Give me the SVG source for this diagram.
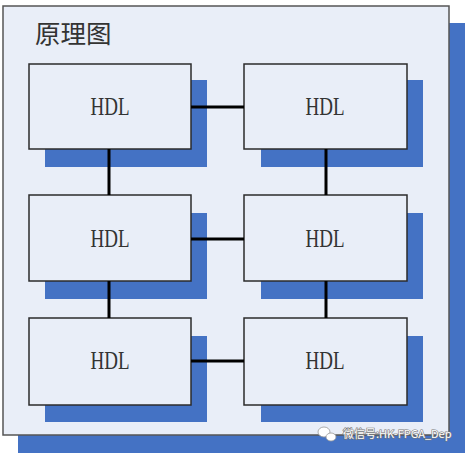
<svg xmlns="http://www.w3.org/2000/svg" width="469" height="456" viewBox="0 0 469 456">
<style>
.shadow{fill:#4472c4}
.box{fill:#e9eef8;stroke:#2b2b2b;stroke-width:1.5}
.lbl{font-family:"Liberation Serif",serif;font-size:26px;fill:#333;text-anchor:middle}
.conn{stroke:#000;stroke-width:3;fill:none}
</style>
<rect x="0" y="0" width="469" height="456" fill="#ffffff"/>
<g id="frame">
<rect class="shadow" x="18" y="23" width="447" height="430"/>
<rect x="3" y="6" width="446" height="429" fill="#e9eef8" stroke="#555" stroke-width="1.5"/>
<text x="35" y="43" font-family="'Noto Sans CJK SC',sans-serif" font-size="25.5" fill="#333">原理图</text>
</g>
<g id="n1"><rect class="shadow" x="45" y="80" width="162" height="87"/><rect class="box" x="29" y="64" width="162" height="85"/><text class="lbl" x="110" y="115" textLength="39" lengthAdjust="spacingAndGlyphs">HDL</text></g>
<g id="n2"><rect class="shadow" x="261" y="80" width="162" height="87"/><rect class="box" x="244" y="64" width="163" height="85"/><text class="lbl" x="325" y="115" textLength="39" lengthAdjust="spacingAndGlyphs">HDL</text></g>
<g id="n3"><rect class="shadow" x="45" y="213" width="162" height="86"/><rect class="box" x="29" y="195" width="162" height="86"/><text class="lbl" x="110" y="247" textLength="39" lengthAdjust="spacingAndGlyphs">HDL</text></g>
<g id="n4"><rect class="shadow" x="261" y="213" width="162" height="86"/><rect class="box" x="244" y="195" width="163" height="86"/><text class="lbl" x="325" y="247" textLength="39" lengthAdjust="spacingAndGlyphs">HDL</text></g>
<g id="n5"><rect class="shadow" x="45" y="336" width="162" height="86"/><rect class="box" x="29" y="318" width="162" height="87"/><text class="lbl" x="110" y="369" textLength="39" lengthAdjust="spacingAndGlyphs">HDL</text></g>
<g id="n6"><rect class="shadow" x="261" y="336" width="162" height="86"/><rect class="box" x="244" y="318" width="163" height="87"/><text class="lbl" x="325" y="369" textLength="39" lengthAdjust="spacingAndGlyphs">HDL</text></g>
<g id="connectors">
<line class="conn" x1="191" y1="107" x2="244" y2="107"/>
<line class="conn" x1="191" y1="239" x2="244" y2="239"/>
<line class="conn" x1="191" y1="361" x2="244" y2="361"/>
<line class="conn" x1="109" y1="149" x2="109" y2="195"/>
<line class="conn" x1="109" y1="281" x2="109" y2="318"/>
<line class="conn" x1="326" y1="149" x2="326" y2="195"/>
<line class="conn" x1="326" y1="281" x2="326" y2="318"/>
</g>
<g id="watermark">
<ellipse cx="324" cy="432" rx="6" ry="5" fill="#fff" stroke="#999" stroke-width="0.8"/>
<ellipse cx="331" cy="437" rx="5" ry="4" fill="#fff" stroke="#999" stroke-width="0.8"/>
<text x="343" y="438" font-family="'Noto Sans CJK SC',sans-serif" font-size="11" fill="#fff" stroke="#777" stroke-width="1.2" paint-order="stroke">微信号:HK-FPGA_Dep</text>
</g>
</svg>
